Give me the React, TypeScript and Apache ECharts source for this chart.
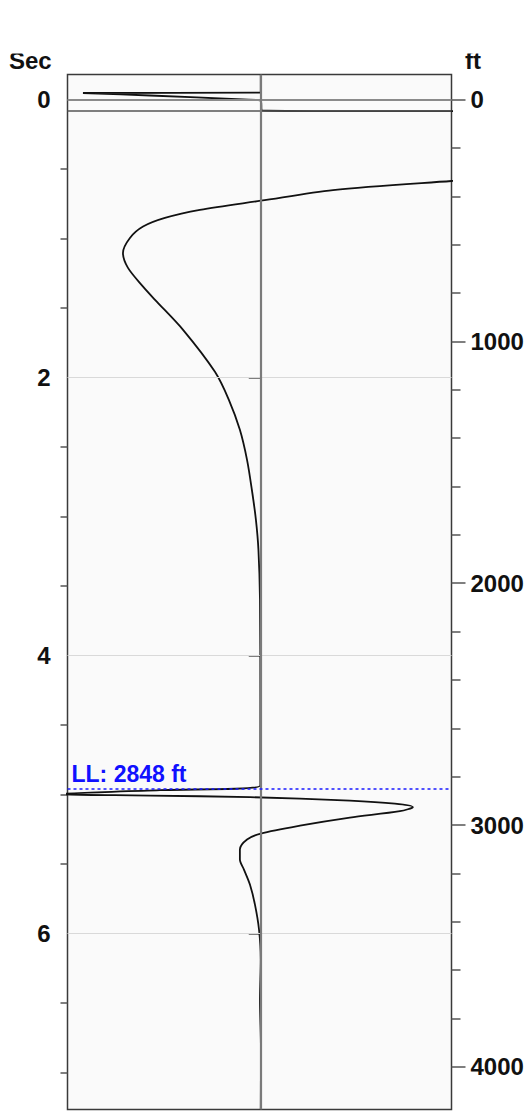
import React, { useEffect, useRef } from "react";
import * as echarts from "echarts";

// Axis ranges (time in seconds on the left, depth in feet on the right)
const secRange = [-0.18, 7.265];
const ftPerSec = 574.8;
const secMajorTicks = [0, 2, 4, 6];
const secMinorTicks = [0.5, 1, 1.5, 2.5, 3, 3.5, 4.5, 5, 5.5, 6.5, 7];
const ftMajorTicks = [0, 1000, 2000, 3000, 4000];
const ftMinorTicks = [200, 400, 600, 800, 1200, 1400, 1600, 1800, 2200, 2400, 2600, 2800, 3200, 3400, 3600, 3800];
const gridLineSec = [2, 4, 6];
const zeroSec = 0;
const stripBoundarySec = 0.08;
const llFt = 2848;
const ampRange = [-1, 0.987];

// Trace: amplitude (left edge = -1) vs time (s)
const traceAmp = [
  0, 0, -0.92, -0.573, -0.092, 0, 0.006, 0.358, 0.987, 1.548, 1.962, 1.858, 1.444, 0.987,
  0.374, 0, -0.315, -0.496, -0.609, -0.677, -0.713, -0.687, -0.609, -0.547, -0.402, -0.237,
  -0.165, -0.108, -0.071, -0.046, -0.025, -0.012, -0.004, -0.002, -0.002, -0.521, -1.065,
  -0.573, -0.056, 0.461, 0.694, 0.787, 0.72, 0.461, 0.203, 0, -0.071, -0.108, -0.108,
  -0.087, -0.056, -0.03, -0.009, 0, -0.004, 0.001, 0,
];
const traceSec = [
  -0.18, -0.05, -0.047, -0.029, 0, 0.007, 0.079, 0.083, 0.084, 0.133, 0.291, 0.449, 0.543,
  0.586, 0.651, 0.728, 0.794, 0.852, 0.914, 0.996, 1.104, 1.211, 1.346, 1.441, 1.657, 1.959,
  2.16, 2.376, 2.592, 2.807, 3.023, 3.239, 3.598, 4.317, 4.935, 4.968, 4.996, 5.007, 5.018,
  5.043, 5.065, 5.09, 5.119, 5.165, 5.223, 5.28, 5.323, 5.395, 5.467, 5.539, 5.647, 5.791,
  5.97, 6.186, 6.474, 6.833, 7.265,
];

const FONT = "'Liberation Sans', Arial, sans-serif";

export default function App() {
  const ref = useRef<HTMLDivElement>(null);

  useEffect(() => {
    if (!ref.current) return;
    const chart = echarts.init(ref.current, undefined, { renderer: "svg" });
    const ftRange = [secRange[0] * ftPerSec, secRange[1] * ftPerSec];
    const traceData = traceAmp.map((a, i) => [a, traceSec[i]]);

    const labelStyle = {
      fontSize: 24,
      fontWeight: "bold" as const,
      color: "#111",
      fontFamily: FONT,
      formatter: (v: number) => String(v),
    };
    const tickLine = { color: "#555", width: 1.5 };

    const option: any = {
      animation: false,
      grid: {
        left: 67.5,
        top: 74.5,
        width: 384,
        height: 1035,
        show: true,
        backgroundColor: "#fafafa",
        borderColor: "#3a3a3a",
        borderWidth: 1.5,
        containLabel: false,
      },
      xAxis: { type: "value", min: ampRange[0], max: ampRange[1], show: false },
      yAxis: [
        {
          type: "value",
          position: "left",
          inverse: true,
          min: secRange[0],
          max: secRange[1],
          axisLine: { show: false },
          splitLine: { show: false },
          axisTick: { show: true, customValues: secMajorTicks, length: 12, lineStyle: tickLine },
          axisLabel: { customValues: secMajorTicks, margin: 17, ...labelStyle },
        },
        {
          type: "value",
          position: "left",
          inverse: true,
          min: secRange[0],
          max: secRange[1],
          axisLine: { show: false },
          splitLine: { show: false },
          axisTick: { show: true, customValues: secMinorTicks, length: 7, lineStyle: tickLine },
          axisLabel: { show: false },
        },
        {
          type: "value",
          position: "right",
          inverse: true,
          min: ftRange[0],
          max: ftRange[1],
          axisLine: { show: false },
          splitLine: { show: false },
          axisTick: { show: true, customValues: ftMajorTicks, length: 14, lineStyle: tickLine },
          axisLabel: { customValues: ftMajorTicks, margin: 19, ...labelStyle },
        },
        {
          type: "value",
          position: "right",
          inverse: true,
          min: ftRange[0],
          max: ftRange[1],
          axisLine: { show: false },
          splitLine: { show: false },
          axisTick: { show: true, customValues: ftMinorTicks, length: 9, lineStyle: tickLine },
          axisLabel: { show: false },
        },
      ],
      series: [
        {
          name: "guides",
          type: "line",
          xAxisIndex: 0,
          yAxisIndex: 0,
          data: [[0, 0]],
          symbol: "none",
          lineStyle: { opacity: 0 },
          silent: true,
          z: 1,
          markLine: {
            silent: true,
            symbol: ["none", "none"],
            label: { show: false },
            data: [
              ...gridLineSec.map((v) => ({ yAxis: v, lineStyle: { color: "#d9d9d9", width: 1, type: "solid" } })),
              { yAxis: zeroSec, lineStyle: { color: "#8a8a8a", width: 2, type: "solid" } },
              { yAxis: stripBoundarySec, lineStyle: { color: "#555", width: 1.5, type: "solid" } },
              { xAxis: 0, lineStyle: { color: "#7a7a7a", width: 2.2, type: "solid" } },
            ],
          },
        },
        {
          name: "trace",
          type: "line",
          xAxisIndex: 0,
          yAxisIndex: 0,
          data: traceData,
          symbol: "none",
          smooth: 0.3,
          clip: true,
          lineStyle: { color: "#111", width: 1.8 },
          z: 3,
        },
        {
          name: "LL",
          type: "line",
          xAxisIndex: 0,
          yAxisIndex: 2,
          data: [[0, llFt]],
          symbol: "none",
          lineStyle: { opacity: 0 },
          silent: true,
          z: 4,
          markLine: {
            silent: true,
            symbol: ["none", "none"],
            data: [{ yAxis: llFt }],
            lineStyle: { color: "#1a1aff", width: 1.5, type: [3, 3] },
            label: {
              show: true,
              position: "insideStartTop",
              formatter: () => `LL: ${llFt} ft`,
              color: "#1010ff",
              fontSize: 23,
              fontWeight: "bold",
              fontFamily: FONT,
              distance: [4, 3],
            },
          },
        },
      ],
      graphic: [
        {
          type: "text",
          x: 9,
          y: 60,
          style: { text: "Sec", font: `bold 24px ${FONT}`, fill: "#111", textAlign: "left", textVerticalAlign: "middle" },
          z: 10,
        },
        {
          type: "text",
          x: 465,
          y: 60,
          style: { text: "ft", font: `bold 24px ${FONT}`, fill: "#111", textAlign: "left", textVerticalAlign: "middle" },
          z: 10,
        },
        {
          type: "rect",
          shape: { x: 0, y: 0, width: 527, height: 53.5 },
          style: { fill: "#ffffff" },
          z: 100,
        },
      ],
    };

    chart.setOption(option);
    return () => chart.dispose();
  }, []);

  return (
    <div
      ref={ref}
      style={{ position: "fixed", left: 0, top: 0, width: 527, height: 1111, background: "#fff" }}
    />
  );
}
